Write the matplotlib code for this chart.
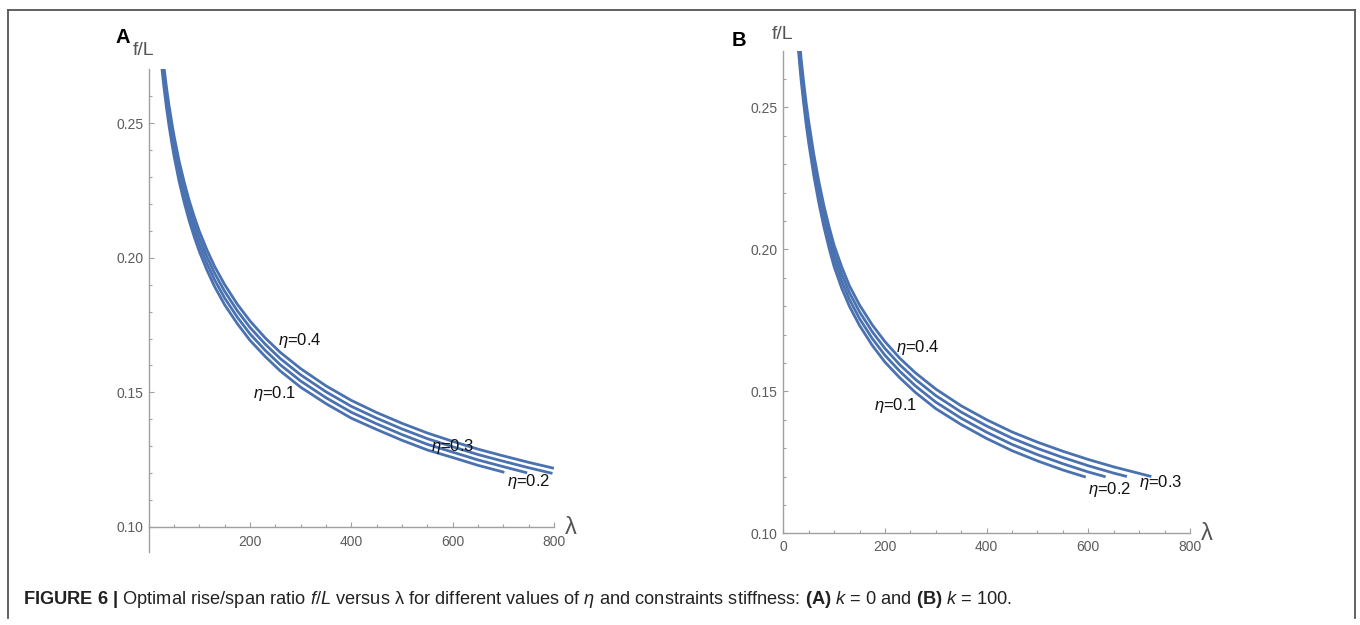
import matplotlib
matplotlib.use("Agg")
import matplotlib.pyplot as plt
from matplotlib.ticker import FixedLocator, FixedFormatter, MultipleLocator
from matplotlib.lines import Line2D

plt.rcParams['font.family'] = ['Liberation Sans', 'DejaVu Sans']
plt.rcParams['mathtext.fontset'] = 'custom'
plt.rcParams['mathtext.rm'] = 'Liberation Sans'
plt.rcParams['mathtext.it'] = 'Liberation Sans:italic'
plt.rcParams['mathtext.bf'] = 'Liberation Sans:bold'

# ---------------- data: panel A (k = 0) ----------------
lamA_04 = [20, 25, 30, 35, 40, 45, 50, 60, 70, 80, 90, 100, 115, 130, 150, 175, 200, 230, 260, 300,
           350, 400, 450, 500, 550, 600, 650, 700, 750, 800]
fA_04 = [0.2897, 0.2797, 0.2710, 0.2634, 0.2567, 0.2508, 0.2453, 0.2359, 0.2281, 0.2212, 0.2152, 0.2098,
         0.2029, 0.1968, 0.1900, 0.1827, 0.1765, 0.1702, 0.1648, 0.1588, 0.1524, 0.1470, 0.1425, 0.1385,
         0.1349, 0.1318, 0.1289, 0.1264, 0.1240, 0.1218]
lamA_03 = [20, 25, 30, 35, 40, 45, 50, 60, 70, 80, 90, 100, 115, 130, 150, 175, 200, 230, 260, 300,
           350, 400, 450, 500, 550, 600, 650, 700, 750, 797]
fA_03 = [0.2872, 0.2772, 0.2685, 0.2609, 0.2542, 0.2483, 0.2428, 0.2334, 0.2256, 0.2187, 0.2127, 0.2073,
         0.2004, 0.1943, 0.1875, 0.1803, 0.1741, 0.1679, 0.1625, 0.1565, 0.1502, 0.1448, 0.1404, 0.1364,
         0.1328, 0.1298, 0.1269, 0.1244, 0.1220, 0.1199]
lamA_02 = [20, 25, 30, 35, 40, 45, 50, 60, 70, 80, 90, 100, 115, 130, 150, 175, 200, 230, 260, 300,
           350, 400, 450, 500, 550, 600, 650, 700, 747]
fA_02 = [0.2847, 0.2747, 0.2660, 0.2584, 0.2517, 0.2458, 0.2403, 0.2309, 0.2231, 0.2162, 0.2102, 0.2048,
         0.1979, 0.1918, 0.1850, 0.1779, 0.1717, 0.1656, 0.1602, 0.1542, 0.1480, 0.1426, 0.1383, 0.1343,
         0.1307, 0.1278, 0.1249, 0.1224, 0.1201]
lamA_01 = [20, 25, 30, 35, 40, 45, 50, 60, 70, 80, 90, 100, 115, 130, 150, 175, 200, 230, 260, 300,
           350, 400, 450, 500, 550, 600, 650, 702]
fA_01 = [0.2822, 0.2722, 0.2635, 0.2559, 0.2492, 0.2433, 0.2378, 0.2284, 0.2206, 0.2137, 0.2077, 0.2023,
         0.1954, 0.1893, 0.1825, 0.1755, 0.1693, 0.1633, 0.1579, 0.1519, 0.1458, 0.1404, 0.1362, 0.1322,
         0.1286, 0.1258, 0.1229, 0.1203]

# ---------------- data: panel B (k = 100) ----------------
lamB_04 = [25, 30, 35, 40, 45, 50, 60, 70, 80, 90, 100, 115, 130, 150, 175, 200, 229, 260, 300,
           350, 400, 450, 500, 550, 600, 650, 700, 724]
fB_04 = [0.2895, 0.2772, 0.2672, 0.2590, 0.2515, 0.2450, 0.2335, 0.2238, 0.2153, 0.2080, 0.2014, 0.1938,
         0.1872, 0.1804, 0.1734, 0.1675, 0.1617, 0.1565, 0.1508, 0.1449, 0.1400, 0.1357, 0.1321, 0.1289,
         0.1260, 0.1234, 0.1211, 0.1200]
lamB_03 = [25, 30, 35, 40, 45, 50, 60, 70, 80, 90, 100, 115, 130, 150, 175, 200, 229, 260, 300,
           350, 400, 450, 500, 550, 600, 650, 676]
fB_03 = [0.2870, 0.2747, 0.2647, 0.2565, 0.2490, 0.2425, 0.2310, 0.2213, 0.2128, 0.2055, 0.1989, 0.1913,
         0.1848, 0.1780, 0.1710, 0.1651, 0.1594, 0.1542, 0.1485, 0.1427, 0.1378, 0.1335, 0.1299, 0.1267,
         0.1238, 0.1212, 0.1200]
lamB_02 = [25, 30, 35, 40, 45, 50, 60, 70, 80, 90, 100, 115, 130, 150, 175, 200, 229, 260, 300,
           350, 400, 450, 500, 550, 600, 634]
fB_02 = [0.2845, 0.2722, 0.2622, 0.2540, 0.2465, 0.2400, 0.2285, 0.2188, 0.2103, 0.2030, 0.1964, 0.1888,
         0.1824, 0.1756, 0.1686, 0.1627, 0.1571, 0.1519, 0.1462, 0.1405, 0.1356, 0.1313, 0.1277, 0.1245,
         0.1216, 0.1199]
lamB_01 = [25, 30, 35, 40, 45, 50, 60, 70, 80, 90, 100, 115, 130, 150, 175, 200, 229, 260, 300,
           350, 400, 450, 500, 550, 595]
fB_01 = [0.2820, 0.2697, 0.2597, 0.2515, 0.2440, 0.2375, 0.2260, 0.2163, 0.2078, 0.2005, 0.1939, 0.1863,
         0.1800, 0.1732, 0.1662, 0.1603, 0.1548, 0.1496, 0.1439, 0.1383, 0.1334, 0.1291, 0.1255, 0.1223,
         0.1198]

y_ticks = [0.10, 0.15, 0.20, 0.25]
y_tick_labels = ["0.10", "0.15", "0.20", "0.25"]
xA_ticks = [200, 400, 600, 800]
xA_tick_labels = ["200", "400", "600", "800"]
xB_ticks = [0, 200, 400, 600, 800]
xB_tick_labels = ["0", "200", "400", "600", "800"]

# labels: (text, lambda, f)
labelsA = [(r"$\eta$=0.4", 255, 0.1694), (r"$\eta$=0.1", 206, 0.1494),
           (r"$\eta$=0.3", 558, 0.1298), (r"$\eta$=0.2", 708, 0.1169)]
labelsB = [(r"$\eta$=0.4", 222, 0.1655), (r"$\eta$=0.1", 179, 0.1450),
           (r"$\eta$=0.2", 600, 0.1153), (r"$\eta$=0.3", 700, 0.1180)]

caption = (r"$\mathbf{FIGURE\ 6\ |}$ Optimal rise/span ratio $f/L$ versus λ for different values of "
           r"$\eta$ and constraints stiffness: $\mathbf{(A)}$ $k$ = 0 and $\mathbf{(B)}$ $k$ = 100.")

# ---------------- figure ----------------
W, H = 1360, 625
fig = plt.figure(figsize=(W / 100, H / 100), dpi=100)

LINE_C = '#4a72b0'
SPINE_C = '#a0a0a0'
TICKLAB_C = '#5c5c5c'


def px(x, y):
    return x / W, 1 - y / H


def style_axes(ax, xticks, xlabels, xlab_pad, ylab_pad):
    for s in ['top', 'right']:
        ax.spines[s].set_visible(False)
    for s in ['left', 'bottom']:
        ax.spines[s].set_color(SPINE_C)
        ax.spines[s].set_linewidth(1.0)
    ax.xaxis.set_major_locator(FixedLocator(xticks))
    ax.xaxis.set_major_formatter(FixedFormatter(xlabels))
    ax.xaxis.set_minor_locator(MultipleLocator(50))
    ax.yaxis.set_major_locator(FixedLocator(y_ticks))
    ax.yaxis.set_major_formatter(FixedFormatter(y_tick_labels))
    ax.yaxis.set_minor_locator(FixedLocator([0.11, 0.12, 0.13, 0.14, 0.16, 0.17, 0.18, 0.19,
                                             0.21, 0.22, 0.23, 0.24, 0.26]))
    ax.tick_params(which='both', direction='in', color=SPINE_C, width=0.8,
                   labelcolor=TICKLAB_C, labelsize=10)
    ax.tick_params(which='major', length=3.5)
    ax.tick_params(which='minor', length=2)
    ax.tick_params(axis='x', pad=xlab_pad)
    ax.tick_params(axis='y', pad=ylab_pad)
    ax.set_xlim(0, 800)


# Panel A
axA = fig.add_axes([148.7 / W, (H - 552) / H, (554 - 148.7) / W, (552 - 69.3) / H])
axA.set_ylim(0.0907, 0.27)
axA.spines['bottom'].set_position(('data', 0.10))
style_axes(axA, xA_ticks, xA_tick_labels, 5.5, 3.5)
for lam, f in [(lamA_04, fA_04), (lamA_03, fA_03), (lamA_02, fA_02), (lamA_01, fA_01)]:
    axA.plot(lam, f, color=LINE_C, lw=2.0, solid_capstyle='butt')
for t, x, y in labelsA:
    axA.text(x, y, t, fontsize=12, ha='left', va='center', color='#111111')

# Panel B
axB = fig.add_axes([783.3 / W, (H - 533.3) / H, (1190 - 783.3) / W, (533.3 - 50.7) / H])
axB.set_ylim(0.10, 0.27)
style_axes(axB, xB_ticks, xB_tick_labels, 4.5, 4.0)
for lam, f in [(lamB_04, fB_04), (lamB_03, fB_03), (lamB_02, fB_02), (lamB_01, fB_01)]:
    axB.plot(lam, f, color=LINE_C, lw=2.0, solid_capstyle='butt')
for t, x, y in labelsB:
    axB.text(x, y, t, fontsize=12, ha='left', va='center', color='#111111')

# axis labels and panel letters
fig.text(*px(116, 43), "A", fontsize=14.5, fontweight='bold', ha='left', va='baseline', color='black')
fig.text(*px(133, 55), "f/L", fontsize=14, ha='left', va='baseline', color='#555555')
fig.text(*px(565, 528), "λ", fontsize=17, ha='left', va='center', color='#555555')

fig.text(*px(732, 46), "B", fontsize=14.5, fontweight='bold', ha='left', va='baseline', color='black')
fig.text(*px(772, 39), "f/L", fontsize=14, ha='left', va='baseline', color='#555555')
fig.text(*px(1201, 534), "λ", fontsize=17, ha='left', va='center', color='#555555')

# caption
fig.text(*px(23, 600), caption, fontsize=13.15, ha='left', va='center', color='#222222')

# outer frame
for (x0, y0, x1, y1) in [(7.5, 10, 1355, 10), (7.5, 10, 7.5, 618), (1355, 10, 1355, 618)]:
    fig.add_artist(Line2D([x0 / W, x1 / W], [1 - y0 / H, 1 - y1 / H], color='#555555', lw=1.3,
                          transform=fig.transFigure))

fig.savefig("out.png", dpi=100)
